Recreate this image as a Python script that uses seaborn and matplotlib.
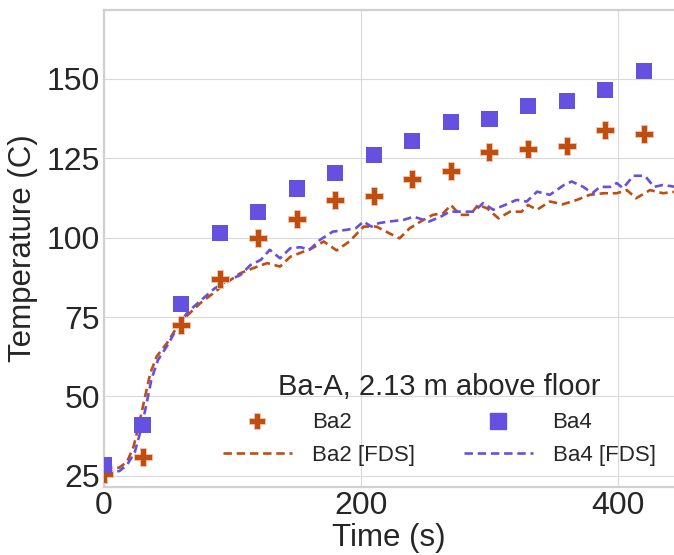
import numpy as np
import pandas as pd
import matplotlib
matplotlib.use("Agg")
import matplotlib.pyplot as plt
import seaborn as sns
from matplotlib.lines import Line2D

# ---- data ----
exp_time = [0, 30, 60, 90, 120, 150, 180, 210, 240, 270, 300, 330, 360, 390, 420]
ba2_exp = [25.5, 31, 72.5, 87, 100, 106, 112, 113, 118.5, 121, 127, 128, 129, 134, 132.5]
ba4_exp = [28.5, 41, 79, 101.5, 108, 115.5, 120.5, 126, 130.5, 136.5, 137.5, 141.5, 143, 146.5, 152.5]

ba2_fds_time = [0, 12, 18, 23, 28, 32, 36, 41, 49, 57, 64, 75, 85, 95, 106, 116, 127, 137,
                145, 152, 162, 171, 181, 191, 202, 212, 222, 230, 238, 246, 256, 264, 270,
                277, 285, 291, 298, 307, 316, 325, 330, 337, 347, 357, 368, 378, 389, 399,
                407, 414, 425, 435, 445]
ba2_fds = [27.5, 27.6, 29.5, 34.2, 42.6, 50, 57.3, 62.6, 66.8, 72, 75.2, 79.4, 82.5, 85.7,
           88.8, 90.4, 92, 90.9, 94, 95.1, 96.7, 98.8, 96, 98.8, 103.5, 103.5, 101.4, 99.8,
           103, 105, 107.2, 107.7, 110.3, 107.2, 107.2, 110.3, 109.3, 106.1, 108.2, 108.2,
           110.3, 108.8, 111.4, 110.5, 111.9, 113.5, 114, 114, 115, 112.4, 115, 114, 114.5]

ba4_fds_time = [0, 12, 18, 24, 29, 33, 37, 42, 50, 58, 65, 76, 86, 96, 106, 114, 122, 129,
                137, 145, 153, 160, 168, 178, 189, 196, 202, 208, 214, 222, 233, 241, 253,
                262, 269, 277, 288, 295, 303, 312, 321, 329, 337, 347, 358, 364, 373, 380,
                386, 394, 399, 404, 412, 421, 428, 435, 445]
ba4_fds = [26.5, 26.5, 28.5, 32.5, 40, 47.5, 55.5, 61.5, 66.5, 72.5, 76.5, 80.5, 84, 86.5,
           88.2, 91.4, 93, 96.2, 93.5, 96.7, 97, 96.2, 99.3, 101.9, 102.5, 103, 105.1, 103.5,
           104.6, 105.1, 105.6, 106.6, 105.1, 106.6, 108.2, 108.2, 108.2, 110.9, 108.8,
           110.3, 111.9, 111.4, 114.5, 113.5, 116.6, 117.7, 116, 114, 116, 116, 117.2, 115.6,
           119.5, 119.5, 116, 116.6, 116]

title_text = "Ba-A, 2.13 m above floor"
c_ba2 = "#BF4E10"
c_ba4 = "#6650E0"
dash = (0, (3.2, 1.8))

fds_df = pd.concat([
    pd.DataFrame({"Time": ba2_fds_time, "Temp": ba2_fds, "Series": "Ba2 [FDS]"}),
    pd.DataFrame({"Time": ba4_fds_time, "Temp": ba4_fds, "Series": "Ba4 [FDS]"}),
])
ba2_df = pd.DataFrame({"Time": exp_time, "Temp": ba2_exp})
ba4_df = pd.DataFrame({"Time": exp_time, "Temp": ba4_exp})

sns.set_style("whitegrid", {"grid.color": "#d9d9d9", "axes.edgecolor": "#d0d0d0"})
plt.rcParams["font.family"] = ["Liberation Sans", "DejaVu Sans"]

fig = plt.figure(figsize=(6.74, 5.55), dpi=100)
ax = fig.add_axes([104 / 674, 68 / 555, 570 / 674, 477 / 555])

sns.lineplot(data=fds_df, x="Time", y="Temp", hue="Series",
             palette={"Ba2 [FDS]": c_ba2, "Ba4 [FDS]": c_ba4},
             linewidth=1.9, ax=ax, legend=False, sort=False, estimator=None)
for line in ax.lines:
    line.set_linestyle(dash)

sns.scatterplot(data=ba2_df, x="Time", y="Temp", marker="P", color=c_ba2,
                s=150, edgecolor="#f0c8b0", linewidth=0.6, ax=ax, zorder=5)
sns.scatterplot(data=ba4_df, x="Time", y="Temp", marker="s", color=c_ba4,
                s=135, edgecolor="none", linewidth=0, ax=ax, zorder=5)

ax.set_xlim(0, 443.6)
ax.set_ylim(21.5, 171.7)
ax.set_xticks([0, 200, 400])
ax.set_yticks([25, 50, 75, 100, 125, 150])
ax.tick_params(labelsize=23, colors="#262626", length=0, pad=3)
ax.set_xlabel("Time (s)", fontsize=22.5, color="#262626", labelpad=1)
ax.set_ylabel("Temperature (C)", fontsize=22.5, color="#262626", labelpad=6)
ax.spines["right"].set_visible(False)
for s in ["left", "bottom", "top"]:
    ax.spines[s].set_linewidth(1.6)

handles = [
    Line2D([], [], marker="P", color=c_ba2, linestyle="none", markersize=12,
           markeredgecolor="#f0c8b0", markeredgewidth=0.6),
    Line2D([], [], color=c_ba2, linestyle=dash, linewidth=1.9),
    Line2D([], [], marker="s", color=c_ba4, linestyle="none", markersize=11),
    Line2D([], [], color=c_ba4, linestyle=dash, linewidth=1.9),
]
labels = ["Ba2", "Ba2 [FDS]", "Ba4", "Ba4 [FDS]"]
leg = ax.legend(handles, labels, title=title_text, ncol=2, loc="lower right",
                bbox_to_anchor=(0.991, 0.017), frameon=False, fontsize=16,
                title_fontsize=21, handlelength=3.1, handletextpad=0.9,
                columnspacing=2.2, borderaxespad=0.2, labelspacing=0.5)
for t in leg.get_texts():
    t.set_color("#262626")
leg.get_title().set_color("#262626")

fig.savefig("out.png", dpi=100)
